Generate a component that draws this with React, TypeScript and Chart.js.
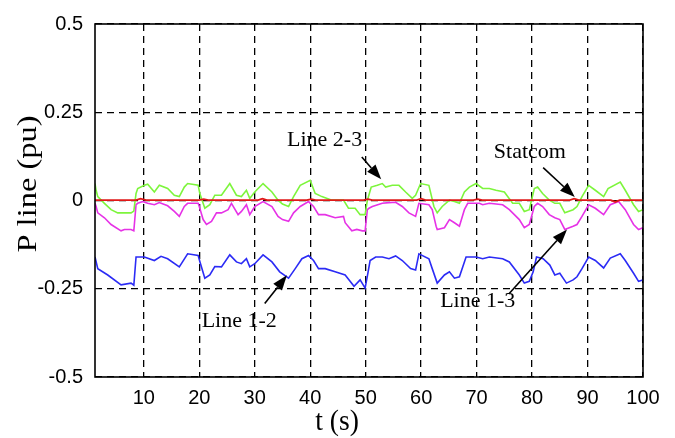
import { useEffect, useRef } from "react";
import { Chart, registerables } from "chart.js";

Chart.register(...registerables);

// Time axis (s) and active power axis (pu)
const T_MIN = 1.2;
const T_MAX = 100;
const tTicks = [10, 20, 30, 40, 50, 60, 70, 80, 90, 100];
const pTicks = [-0.5, -0.25, 0, 0.25, 0.5];

// Series samples as [t (s), P (pu)]
const statcom: [number, number][] = [
  [1.2, 0.001], [8.6, 0.001], [9.4, 0.005], [10.4, 0.001], [20.0, 0.001], [20.8, 0.004],
  [21.6, 0.001], [30.6, 0.001], [31.4, 0.005], [32.2, 0.001], [39.4, 0.001], [40.2, 0.004],
  [41.0, 0.001], [49.6, 0.001], [50.4, 0.004], [51.2, 0.001], [59.2, 0.001], [60.0, 0.005],
  [60.8, 0.001], [69.4, 0.001], [70.2, 0.004], [71.0, 0.001], [86.8, 0.001], [87.6, 0.005],
  [88.4, 0.001], [94.2, 0.001], [95.0, -0.004], [95.8, 0.001], [100, 0.001],
];

const line23: [number, number][] = [
  [1.2, 0.048], [1.4, 0.029], [1.7, 0.011], [2.9, -0.008], [4.1, -0.026], [5.3, -0.035],
  [7.7, -0.035], [8.2, -0.03], [8.6, 0.02], [8.9, 0.034], [10.1, 0.043], [10.7, 0.046],
  [11.9, 0.024], [12.8, 0.043], [14.3, 0.034], [15.5, 0.015], [16.4, 0.011], [17.3, 0.038],
  [17.9, 0.048], [19.8, 0.043], [20.1, 0.02], [21.0, -0.022], [21.9, -0.012], [22.8, 0.015],
  [24.0, 0.015], [25.5, 0.048], [26.7, 0.015], [27.6, 0.011], [28.5, 0.029], [29.1, 0.006],
  [30.0, 0.024], [31.5, 0.048], [33.1, 0.024], [34.2, 0.001], [35.0, -0.01], [36.1, -0.017],
  [37.0, 0.011], [38.2, 0.043], [40.0, 0.057], [40.9, 0.02], [42.1, 0.011], [43.9, 0.001],
  [46.0, 0.001], [46.9, -0.022], [48.1, -0.022], [49.0, -0.04], [49.9, -0.04], [50.3, 0.0],
  [51.0, 0.038], [52.1, 0.043], [53.0, 0.048], [53.6, 0.038], [54.8, 0.043], [56.0, 0.043],
  [57.2, 0.024], [58.4, 0.006], [59.0, 0.015], [59.9, 0.048], [61.4, 0.043], [62.3, -0.017],
  [62.9, -0.035], [63.8, -0.017], [65.1, 0.001], [66.0, -0.003], [66.9, -0.008], [67.8, 0.024],
  [68.7, 0.038], [69.9, 0.048], [71.1, 0.034], [72.3, 0.034], [73.5, 0.029], [75.0, 0.024],
  [76.5, -0.008], [77.7, -0.008], [78.6, -0.031], [79.5, -0.026], [80.4, 0.034], [81.0, 0.038],
  [81.9, 0.02], [83.1, 0.001], [84.1, -0.008], [85.0, -0.008], [85.9, -0.035], [87.4, -0.026],
  [88.1, -0.017], [89.0, 0.011], [90.2, 0.043], [91.4, 0.029], [92.9, 0.011], [93.7, 0.034],
  [95.9, 0.052], [96.8, 0.029], [98.3, -0.012], [99.2, -0.031], [100, -0.026],
];

const line13: [number, number][] = [
  [1.2, -0.008], [1.4, -0.017], [1.7, -0.035], [2.9, -0.049], [4.1, -0.068], [5.9, -0.086],
  [6.5, -0.082], [7.7, -0.082], [8.2, -0.086], [8.6, -0.012], [8.9, -0.008], [9.8, -0.003],
  [10.7, -0.008], [11.9, -0.012], [12.8, -0.006], [14.3, -0.015], [15.5, -0.031], [16.4, -0.045],
  [17.3, -0.017], [17.9, -0.008], [19.8, -0.008], [20.0, -0.017], [20.7, -0.054], [21.3, -0.068],
  [22.2, -0.059], [23.1, -0.035], [24.0, -0.035], [25.2, -0.026], [25.8, -0.008], [27.0, -0.04],
  [27.6, -0.031], [28.5, -0.012], [29.1, -0.04], [30.0, -0.017], [31.5, -0.003], [33.1, -0.017],
  [34.2, -0.045], [35.0, -0.054], [36.1, -0.059], [37.0, -0.035], [38.2, -0.017], [39.7, -0.003],
  [40.6, -0.017], [41.5, -0.04], [42.7, -0.04], [44.5, -0.049], [46.0, -0.045], [46.3, -0.063],
  [47.5, -0.086], [48.4, -0.082], [49.4, -0.086], [49.9, -0.086], [50.3, -0.026], [50.6, -0.022],
  [51.2, -0.017], [53.0, -0.008], [54.2, -0.006], [55.4, -0.005], [56.6, -0.017], [57.8, -0.035],
  [59.0, -0.045], [59.6, -0.008], [61.4, -0.012], [62.0, -0.026], [62.7, -0.073], [62.9, -0.082],
  [64.2, -0.077], [65.1, -0.054], [66.0, -0.063], [66.9, -0.073], [67.8, -0.026], [68.4, -0.008],
  [70.5, -0.008], [71.1, -0.012], [72.3, -0.008], [74.7, -0.012], [75.9, -0.026], [77.7, -0.054],
  [78.6, -0.077], [79.5, -0.068], [80.4, -0.017], [81.0, -0.008], [81.9, -0.017], [83.1, -0.04],
  [84.1, -0.049], [85.0, -0.054], [85.9, -0.082], [87.4, -0.073], [88.1, -0.068], [89.0, -0.045],
  [90.2, -0.012], [91.4, -0.022], [92.9, -0.04], [94.1, -0.012], [95.6, -0.003], [96.8, -0.026],
  [98.3, -0.068], [99.2, -0.082], [100, -0.077],
];

const line12: [number, number][] = [
  [1.2, -0.16], [1.7, -0.193], [3.5, -0.211], [5.9, -0.239], [7.7, -0.234], [8.2, -0.24],
  [8.6, -0.16], [10.1, -0.16], [11.9, -0.17], [13.1, -0.158], [14.3, -0.165], [16.4, -0.188],
  [17.9, -0.151], [19.8, -0.156], [20.1, -0.173], [21.0, -0.22], [21.9, -0.211], [22.8, -0.187],
  [24.0, -0.188], [25.5, -0.154], [26.7, -0.174], [27.6, -0.179], [28.5, -0.165], [29.1, -0.188],
  [30.0, -0.179], [31.5, -0.154], [33.1, -0.174], [34.5, -0.202], [36.1, -0.22], [37.3, -0.193],
  [38.5, -0.165], [39.7, -0.156], [40.6, -0.17], [41.5, -0.193], [42.7, -0.193], [44.5, -0.202],
  [46.3, -0.211], [47.9, -0.243], [49.0, -0.225], [49.9, -0.248], [50.4, -0.206], [50.8, -0.17],
  [51.8, -0.16], [53.0, -0.16], [54.2, -0.165], [55.4, -0.157], [56.6, -0.17], [58.1, -0.193],
  [59.0, -0.197], [59.6, -0.151], [61.4, -0.165], [62.0, -0.193], [62.9, -0.234], [64.2, -0.211],
  [65.1, -0.202], [66.0, -0.22], [66.9, -0.216], [67.8, -0.174], [68.1, -0.16], [69.9, -0.16],
  [71.1, -0.165], [72.3, -0.16], [74.7, -0.165], [75.9, -0.174], [77.7, -0.211], [78.6, -0.234],
  [79.5, -0.229], [80.2, -0.202], [80.8, -0.16], [82.0, -0.165], [83.2, -0.183], [84.1, -0.211],
  [85.0, -0.206], [86.2, -0.234], [87.4, -0.225], [88.1, -0.216], [89.0, -0.193], [90.2, -0.16],
  [91.4, -0.17], [92.9, -0.191], [94.1, -0.163], [95.9, -0.151], [96.8, -0.17], [98.3, -0.206],
  [99.2, -0.229], [100, -0.225],
];

// Callouts: label anchor and arrow tail/tip, all in data units (t, P)
type Note = { text: string; at: [number, number]; from: [number, number]; to: [number, number] };
const notes: Note[] = [
  { text: "Line 2-3", at: [42.6, 0.154], from: [49.3, 0.123], to: [52.8, 0.06] },
  { text: "Statcom", at: [79.6, 0.12], from: [82.0, 0.093], to: [87.7, 0.01] },
  { text: "Line 1-3", at: [70.2, -0.301], from: [75.8, -0.265], to: [86.3, -0.082] },
  { text: "Line 1-2", at: [27.2, -0.358], from: [31.8, -0.292], to: [35.8, -0.212] },
];

const toXY = (s: [number, number][]) => s.map(([x, y]) => ({ x, y }));

function drawArrow(ctx: CanvasRenderingContext2D, x1: number, y1: number, x2: number, y2: number) {
  const ang = Math.atan2(y2 - y1, x2 - x1);
  const len = 15;
  const half = 5.5;
  const bx = x2 - len * Math.cos(ang);
  const by = y2 - len * Math.sin(ang);
  ctx.beginPath();
  ctx.moveTo(x1, y1);
  ctx.lineTo(bx, by);
  ctx.lineWidth = 1.6;
  ctx.stroke();
  ctx.beginPath();
  ctx.moveTo(x2, y2);
  ctx.lineTo(bx + half * Math.sin(ang), by - half * Math.cos(ang));
  ctx.lineTo(bx - half * Math.sin(ang), by + half * Math.cos(ang));
  ctx.closePath();
  ctx.fill();
}

const decorations = {
  id: "decorations",
  afterDraw(chart: any) {
    const { ctx, chartArea: a, scales } = chart;
    const xs = scales.x;
    const ys = scales.y;
    ctx.save();
    ctx.strokeStyle = "#000";
    ctx.fillStyle = "#000";

    // axes box
    ctx.lineWidth = 1.6;
    ctx.strokeRect(a.left, a.top, a.right - a.left, a.bottom - a.top);

    // callouts
    ctx.font = '22px "Liberation Serif", "Times New Roman", serif';
    ctx.textAlign = "center";
    ctx.textBaseline = "alphabetic";
    for (const n of notes) {
      ctx.fillText(n.text, xs.getPixelForValue(n.at[0]), ys.getPixelForValue(n.at[1]));
      drawArrow(
        ctx,
        xs.getPixelForValue(n.from[0]),
        ys.getPixelForValue(n.from[1]),
        xs.getPixelForValue(n.to[0]),
        ys.getPixelForValue(n.to[1])
      );
    }

    // y-axis title
    ctx.save();
    ctx.translate(a.left - 66, a.top + 160);
    ctx.rotate(-Math.PI / 2);
    ctx.scale(1.16, 1);
    ctx.font = '28px "Liberation Serif", "Times New Roman", serif';
    ctx.textAlign = "center";
    ctx.textBaseline = "middle";
    ctx.fillText("P line (pu)", 0, 0);
    ctx.restore();

    // x-axis title
    ctx.save();
    ctx.translate(a.left + 242, a.bottom + 53);
    ctx.scale(0.92, 1);
    ctx.font = '30px "Liberation Serif", "Times New Roman", serif';
    ctx.textAlign = "center";
    ctx.textBaseline = "alphabetic";
    ctx.fillText("t (s)", 0, 0);
    ctx.restore();

    ctx.restore();
  },
};

export default function App() {
  const canvasRef = useRef<HTMLCanvasElement | null>(null);

  useEffect(() => {
    const canvas = canvasRef.current;
    if (!canvas) return;
    const tickFont = { family: '"Liberation Sans", Arial, sans-serif', size: 20 };
    const gridDash = [7, 5];
    const chart = new Chart(canvas, {
      type: "line",
      data: {
        datasets: [
          { label: "Statcom", data: toXY(statcom), borderColor: "#e01818", borderWidth: 1.8 },
          { label: "Line 2-3", data: toXY(line23), borderColor: "#7df53c", borderWidth: 1.6 },
          { label: "Line 1-3", data: toXY(line13), borderColor: "#e632e6", borderWidth: 1.6 },
          { label: "Line 1-2", data: toXY(line12), borderColor: "#2b2bf5", borderWidth: 1.6 },
        ],
      },
      options: {
        animation: false,
        responsive: false,
        devicePixelRatio: 1,
        layout: { padding: { left: 0, top: 16, right: 32, bottom: 0 } },
        elements: { point: { radius: 0 }, line: { tension: 0 } },
        plugins: { legend: { display: false }, tooltip: { enabled: false } },
        scales: {
          x: {
            type: "linear",
            min: T_MIN,
            max: T_MAX,
            afterBuildTicks: (s: any) => {
              s.ticks = tTicks.map((value) => ({ value }));
            },
            afterFit: (s: any) => {
              s.height = 61;
            },
            grid: { color: "#000", lineWidth: 1.3, drawTicks: false },
            border: { display: false, dash: gridDash },
            ticks: {
              color: "#000",
              font: tickFont,
              padding: 9,
              maxRotation: 0,
              autoSkip: false,
              callback: (v: any) => String(v),
            },
          },
          y: {
            type: "linear",
            min: -0.5,
            max: 0.5,
            afterBuildTicks: (s: any) => {
              s.ticks = pTicks.map((value) => ({ value }));
            },
            afterFit: (s: any) => {
              s.width = 95;
            },
            grid: { color: "#000", lineWidth: 1.3, drawTicks: false },
            border: { display: false, dash: gridDash },
            ticks: {
              color: "#000",
              font: tickFont,
              padding: 12,
              autoSkip: false,
              callback: (v: any) => String(v),
            },
          },
        },
      },
      plugins: [decorations],
    });
    return () => chart.destroy();
  }, []);

  return (
    <div style={{ position: "fixed", left: 0, top: 0, width: 675, height: 438, background: "#fff" }}>
      <canvas ref={canvasRef} width={675} height={438} style={{ display: "block" }} />
    </div>
  );
}
